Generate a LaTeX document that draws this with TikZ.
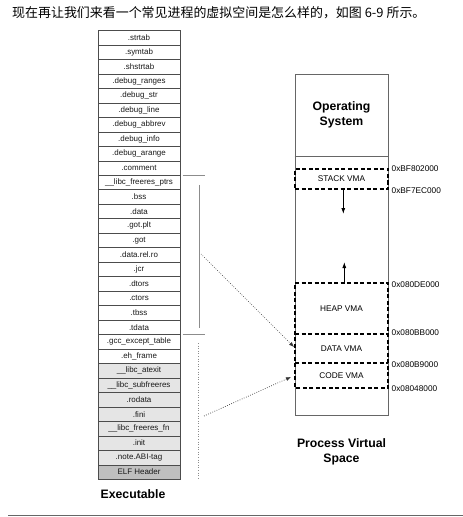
\documentclass[tikz,border=0pt]{standalone}
\usepackage{fontspec}
\setmainfont{Liberation Sans}
\newfontfamily\cjk{Noto Sans CJK SC}
\usetikzlibrary{arrows.meta}
\begin{document}
\begin{tikzpicture}[x=1bp,y=-1bp,
  sec/.style={draw=black!70,line width=0.5bp,minimum width=82bp,minimum height=14.476bp,inner sep=0,font=\fontsize{8}{9}\selectfont,text=black!90},
  vma/.style={draw=black,line width=1.3bp,dash pattern=on 4bp off 2.5bp},
  vmabox/.style={minimum width=93bp,inner sep=0,outer sep=0},
  addr/.style={anchor=west,inner sep=0,font=\fontsize{8.3}{9}\selectfont},
  vlabel/.style={inner sep=0,font=\fontsize{8.3}{9}\selectfont},
  bigtitle/.style={font=\fontsize{12.3}{14.5}\selectfont\bfseries,align=center,inner sep=0},
  brk/.style={draw=black!45,line width=0.6bp},
  dotarrow/.style={draw=black!80,line width=0.7bp,dash pattern=on 0.7bp off 1.6bp,-{Latex[length=5bp,width=4bp]}},
  growarrow/.style={draw=black,line width=0.9bp,-{Latex[length=6bp,width=4bp]}}]
\useasboundingbox (0,0) rectangle (463,517);
% heading
\node[anchor=west,inner sep=0,font=\cjk\fontsize{13}{15}\selectfont] (head) at (12,12.5) {现在再让我们来看一个常见进程的虚拟空间是怎么样的，如图 6-9 所示。};
% shaded bottom rows
\fill[gray!20] (98,{30.5+23*14.476}) rectangle (180,{30.5+30*14.476});
\fill[gray!50] (98,{30.5+30*14.476}) rectangle (180,{30.5+31*14.476});
% executable sections
\foreach \t [count=\i] in {.strtab,.symtab,.shstrtab,.debug\_ranges,.debug\_str,.debug\_line,.debug\_abbrev,.debug\_info,.debug\_arange,.comment,\_\_libc\_freeres\_ptrs,.bss,.data,.got.plt,.got,.data.rel.ro,.jcr,.dtors,.ctors,.tbss,.tdata,.gcc\_except\_table,.eh\_frame,\_\_libc\_atexit,\_\_libc\_subfreeres,.rodata,.fini,\_\_libc\_freeres\_fn,.init,.note.ABI-tag,ELF Header}
  \node[sec] (r\i) at (139,{30.5+(\i-0.5)*14.476}) {\t};
\node[bigtitle] (exe) at (133,494) {Executable};
% segment brackets
\draw[brk] (182.7,175.5) -- (205,175.5);
\draw[brk] (199.3,185) -- (199.3,328);
\draw[brk] (182.7,334) -- (205,334);
\draw[brk,dotted] (198.5,343) -- (198.5,480);
\coordinate (dseg) at (201,254);
\coordinate (cseg) at (204,416);
% process virtual space
\node[draw=black!60,line width=0.6bp,minimum width=93bp,minimum height=341bp,inner sep=0] (pvs) at (341.5,244.5) {};
\draw[black!60,line width=0.6bp] (pvs.west |- 0,156) -- (pvs.east |- 0,156);
\node[bigtitle] (os) at (341.5,115) {Operating\\System};
\node[vma,vmabox,minimum height=20bp] (stack) at (341.5,179) {};
\node[vlabel] (stackl) at (stack) {STACK VMA};
\node[vmabox,minimum height=51bp] (heap) at (341.5,308.5) {};
\node[vmabox,minimum height=29bp] (data) at (341.5,348.5) {};
\node[vmabox,minimum height=25bp] (code) at (341.5,375.5) {};
\draw[vma] (heap.north west) -- (heap.north east) -- (code.south east) -- (code.south west) -- cycle;
\draw[vma] (data.north west) -- (data.north east);
\draw[vma] (code.north west) -- (code.north east);
\node[vlabel] (heapl) at (341.5,309) {HEAP VMA};
\node[vlabel] (datal) at (341.5,349) {DATA VMA};
\node[vlabel] (codel) at (341.5,376) {CODE VMA};
\node[addr] (a1) at (391.5,169) {0xBF802000};
\node[addr] (a2) at (391.5,191) {0xBF7EC000};
\node[addr] (a3) at (391.5,284.5) {0x080DE000};
\node[addr] (a4) at (391.5,333) {0x080BB000};
\node[addr] (a5) at (391.5,364.5) {0x080B9000};
\node[addr] (a6) at (391.5,389) {0x08048000};
\coordinate (sdown) at (343.3,214);
\coordinate (hup) at (344.3,262);
\draw[growarrow] (stack.south -| sdown) -- (sdown);
\draw[growarrow] (heap.north -| hup) -- (hup);
\node[bigtitle] (pvl) at (341.5,452) {Process Virtual\\Space};
% mapping arrows
\coordinate (dtip) at (294,347);
\coordinate (ctip) at (291,377);
\draw[dotarrow] (dseg) -- (dtip);
\draw[dotarrow] (cseg) -- (ctip);
% page rule
\draw[black!60,line width=1.5bp] (8,515.5) -- (463,515.5);
\end{tikzpicture}
\end{document}
